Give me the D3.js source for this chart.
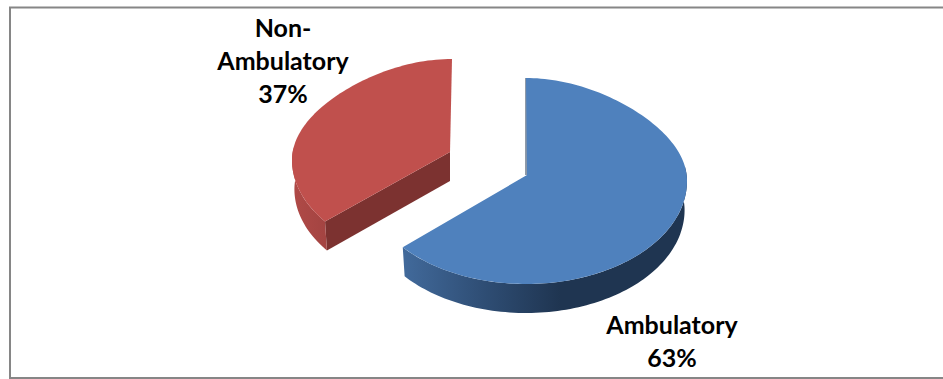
<!DOCTYPE html>
<html>
<head>
<meta charset="utf-8">
<script src="https://cdnjs.cloudflare.com/ajax/libs/d3/7.8.5/d3.min.js"></script>
<style>
html, body { margin: 0; padding: 0; background: #fff; overflow: hidden; }
svg { display: block; }
.lbl { font-family: Lato, "Open Sans", sans-serif; font-weight: 700; font-size: 25px; fill: #000; text-anchor: middle; }
</style>
</head>
<body>
<div id="chart"></div>
<script>
// chart data
const categories = ["Ambulatory", "Non-Ambulatory"];
const shares = [63, 37];
const labelLines = [["Ambulatory", "63%"], ["Non-", "Ambulatory", "37%"]];

const width = 943, height = 379;

// each slice is exploded, so it has its own rim and apex
// warp nudges the angles the way the 3d tilt does
const geo = [
    { cx: 526, cy: 181, apexX: 527, apexY: 175, rx: 161, ry: 103, warp: 0.055, top: "#4f81bd" },
    { cx: 452, cy: 160, apexX: 450, apexY: 152, rx: 160, ry: 101, warp: 0.1, top: "#c0504d" }
];
const depth = 29;
const backNarrow = 0.16; // back of the pie is further away

const svg = d3.select("#chart").append("svg")
    .attr("width", width)
    .attr("height", height);

// gradients for the side walls
const defs = svg.append("defs");
function addGradient(id, x1, x2, stops) {
    const g = defs.append("linearGradient")
        .attr("id", id)
        .attr("gradientUnits", "userSpaceOnUse")
        .attr("x1", x1).attr("x2", x2).attr("y1", 0).attr("y2", 0);
    stops.forEach(s => g.append("stop").attr("offset", s[0]).attr("stop-color", s[1]));
}
addGradient("blueWall", 405, 560, [[0, "#41699a"], [0.5, "#2f4e75"], [1, "#1f3551"]]);
addGradient("redWall", 292, 330, [[0, "#b04a47"], [1, "#a24341"]]);

// outer frame, runs off the right edge of the picture
svg.append("rect")
    .attr("x", 10).attr("y", 7.5)
    .attr("width", 1000).attr("height", 370.5)
    .attr("fill", "#fff")
    .attr("stroke", "#868686")
    .attr("stroke-width", 2);

const pie = d3.pie().sort(null).value(d => d);
const arcs = pie(shares);

const line = d3.line().x(d => d[0]).y(d => d[1]);

function rimPoints(g, a0, a1, shrink, dy) {
    const sx = d3.scaleLinear().domain([-1, 1]).range([g.cx - g.rx * shrink, g.cx + g.rx * shrink]);
    const sy = d3.scaleLinear().domain([-1, 1]).range([g.cy - g.ry, g.cy + g.ry]);
    const n = Math.max(2, Math.ceil(Math.abs(a1 - a0) * 40));
    return d3.range(n + 1).map(i => {
        const raw = a0 + (a1 - a0) * i / n;
        const t = raw + g.warp * Math.sin(2 * raw);
        const back = Math.max(Math.cos(t), 0);
        const k = 1 - backNarrow * back * back;
        return [sx(Math.sin(t) * k), sy(-Math.cos(t)) + dy];
    });
}

arcs.forEach((d, i) => {
    const g = geo[i];
    const s = svg.append("g").attr("class", "slice-" + i);
    const low = 0.985;

    // cut face on the red slice, facing the viewer
    if (i === 1) {
        const e = rimPoints(g, d.startAngle, d.startAngle, 1, 0)[0];
        const eLow = rimPoints(g, d.startAngle, d.startAngle, low, depth)[0];
        s.append("path")
            .attr("d", line([[g.apexX, g.apexY], e, eLow, [g.apexX, g.apexY + depth]]) + "Z")
            .attr("fill", "#7c3230");
    }

    // outer wall, only the front half shows
    const a0 = Math.max(d.startAngle, Math.PI * 0.45);
    const a1 = Math.min(d.endAngle, Math.PI * 1.55);
    const wall = rimPoints(g, a0, a1, 1, 0)
        .concat(rimPoints(g, a0, a1, low, depth).reverse());
    s.append("path")
        .attr("d", line(wall) + "Z")
        .attr("fill", i === 0 ? "url(#blueWall)" : "url(#redWall)");

    // thin dark edge where the blue slice starts
    if (i === 0) {
        s.append("path")
            .attr("d", line([[g.apexX - 1, g.apexY], rimPoints(g, 0, 0, 1, 0)[0]]))
            .attr("stroke", "#1f3551").attr("stroke-width", 1).attr("fill", "none");
    }

    // top surface
    const rim = rimPoints(g, d.startAngle, d.endAngle, 1, 0);
    s.append("path")
        .attr("d", line([[g.apexX, g.apexY]].concat(rim)) + "Z")
        .attr("fill", g.top);
});

// data labels
const labelPos = [{ x: 672, y: 334 }, { x: 283, y: 37 }];
labelLines.forEach((lines, i) => {
    lines.forEach((t, j) => {
        svg.append("text")
            .attr("class", "lbl")
            .attr("x", labelPos[i].x)
            .attr("y", labelPos[i].y + j * 33)
            .text(t);
    });
});
</script>
</body>
</html>
